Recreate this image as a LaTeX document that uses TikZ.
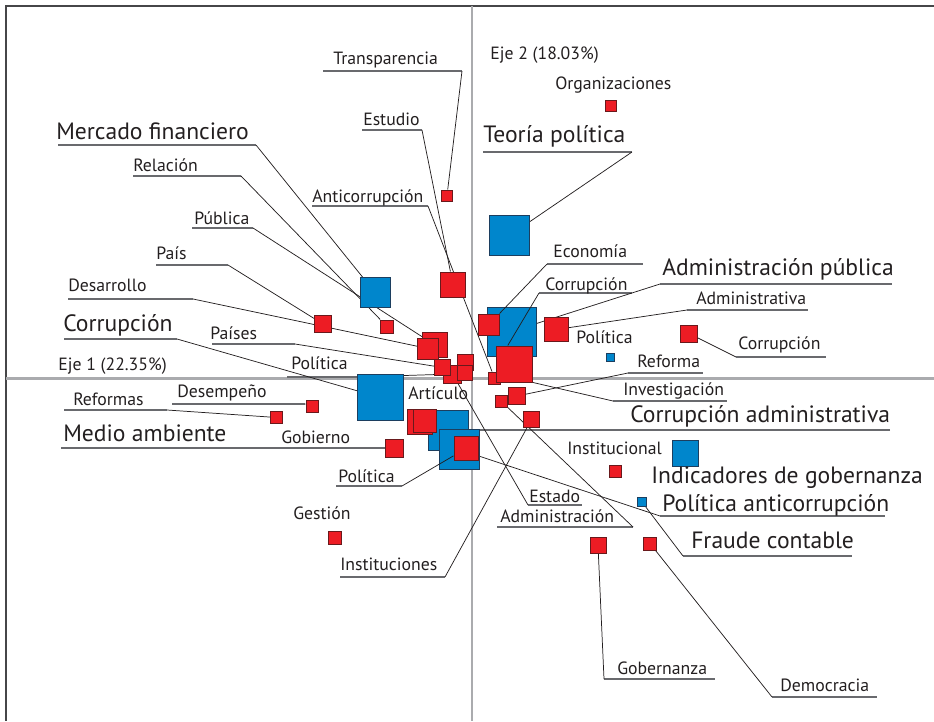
\documentclass[tikz,border=0pt]{standalone}
\usepackage{fontspec}
\setmainfont{PT Sans}
\definecolor{ink}{RGB}{35,31,32}
\definecolor{ulgray}{RGB}{105,106,110}
\definecolor{axisgray}{RGB}{170,171,174}
\definecolor{framegray}{RGB}{70,70,72}
\definecolor{ptred}{RGB}{237,28,36}
\definecolor{ptredline}{RGB}{105,25,28}
\definecolor{ptblue}{RGB}{0,134,204}
\definecolor{ptblueline}{RGB}{28,62,95}
\pgfdeclarelayer{background}
\pgfsetlayers{background,main}
\tikzset{
  red sq/.style={draw=ptredline, fill=ptred, line width=0.6pt, inner sep=0pt,
    minimum size={#1*0.75pt-0.6pt}},
  blue sq/.style={draw=ptblueline, fill=ptblue, line width=0.6pt, inner sep=0pt,
    minimum size={#1*0.75pt-0.6pt}},
  small txt/.style={font=\fontsize{13.3}{16}\selectfont, text=ink, inner sep=0pt, anchor=base west},
  big txt/.style={font=\fontsize{17.7}{21}\selectfont, text=ink, inner sep=0pt, anchor=base west},
  uline/.style={draw=ulgray, line width=0.8pt},
  leader/.style={draw=ink, line width=0.55pt},
  axis/.style={draw=axisgray, line width=1.8pt},
}
\begin{document}
\begin{tikzpicture}[x=0.75pt, y=-0.75pt]
  \useasboundingbox (0,0) rectangle (934,721);
  % blue points
  \node[blue sq=41] (teoria) at (509.5,235.5) {};
  \node[blue sq=31] (mercado) at (375,292.5) {};
  \node[blue sq=47] (corrupcion l) at (380.5,397.5) {};
  \node[blue sq=41] (corr adm) at (448,430) {};
  \node[blue sq=41] (pol anti) at (459,449.5) {};
  \node[blue sq=50] (adm publica) at (511.5,331.5) {};
  \node[blue sq=9] (politica r) at (610.5,357.5) {};
  \node[blue sq=27] (indicadores) at (685,453.5) {};
  \node[blue sq=10] (fraude) at (642,502) {};
  % red points
  \node[red sq=12] (organizaciones) at (611,105.5) {};
  \node[red sq=12] (transparencia) at (447,195.5) {};
  \node[red sq=26] (estudio) at (453,284.5) {};
  \node[red sq=14] (relacion) at (387,326.5) {};
  \node[red sq=18] (pais) at (323,324) {};
  \node[red sq=26] (publica) at (435,345) {};
  \node[red sq=22] (desarrollo) at (428,348.5) {};
  \node[red sq=19] (politica l) at (452.5,374) {};
  \node[red sq=17] (paises) at (442.5,367.5) {};
  \node[red sq=17] (cluster a) at (465.5,362.5) {};
  \node[red sq=16] (cluster b) at (465,372.5) {};
  \node[red sq=13] (anticorrupcion) at (494.5,378) {};
  \node[red sq=22] (economia) at (489,324.5) {};
  \node[red sq=37] (corrupcion ur) at (514.5,364) {};
  \node[red sq=25] (administrativa) at (556.5,329.5) {};
  \node[red sq=18] (corrupcion fr) at (689,333.5) {};
  \node[red sq=18] (reforma) at (517,396) {};
  \node[red sq=13] (administracion) at (501.5,401.5) {};
  \node[red sq=17] (instituciones) at (531.5,419.5) {};
  \node[red sq=13] (desempeno) at (312,406) {};
  \node[red sq=13] (reformas) at (276.5,417.5) {};
  \node[red sq=19] (gobierno) at (394,448) {};
  \node[red sq=26] (articulo a) at (420,421.5) {};
  \node[red sq=24] (articulo b) at (424.5,421) {};
  \node[red sq=25] (politica c) at (466,448.5) {};
  \node[red sq=13] (institucional) at (615.5,471) {};
  \node[red sq=14] (gestion) at (335,538) {};
  \node[red sq=17] (gobernanza) at (598,545.5) {};
  \node[red sq=14] (democracia) at (650,543.5) {};

  % labels
  \node[small txt] (eje 1) at (58,370) {Eje 1 (22.35\%)};
  \node[small txt] (eje 2) at (490,59) {Eje 2 (18.03\%)};
  \node[small txt] (transparencia text) at (333,64) {Transparencia};
  \node[small txt] (estudio text) at (363,125) {Estudio};
  \node[small txt] (relacion text) at (133,171) {Relación};
  \node[small txt] (anticorrupcion text) at (312,202) {Anticorrupción};
  \node[small txt] (publica text) at (194,224) {Pública};
  \node[small txt] (pais text) at (156,259) {País};
  \node[small txt] (desarrollo text) at (68,291) {Desarrollo};
  \node[small txt] (paises text) at (210,339) {Países};
  \node[small txt] (politica l text) at (291,369) {Política};
  \node[small txt] (desempeno text) at (177,397) {Desempeño};
  \node[small txt] (reformas text) at (73,405) {Reformas};
  \node[small txt] (gobierno text) at (281,443) {Gobierno};
  \node[small txt] (articulo text) at (408,399) {Artículo};
  \node[small txt] (politica c text) at (338,482) {Política};
  \node[small txt] (gestion text) at (293,519) {Gestión};
  \node[small txt] (instituciones text) at (340,570) {Instituciones};
  \node[small txt] (organizaciones text) at (555,89) {Organizaciones};
  \node[small txt] (economia text) at (553,257) {Economía};
  \node[small txt] (corrupcion ur text) at (545,290) {Corrupción};
  \node[small txt] (administrativa text) at (696,304) {Administrativa};
  \node[small txt] (politica r text) at (576,343) {Política};
  \node[small txt] (corrupcion fr text) at (738,349) {Corrupción};
  \node[small txt] (reforma text) at (637,367) {Reforma};
  \node[small txt] (investigacion text) at (623,395) {Investigación};
  \node[small txt] (institucional text) at (567,454) {Institucional};
  \node[small txt] (estado text) at (529,502) {Estado};
  \node[small txt] (administracion text) at (500,522) {Administración};
  \node[small txt] (gobernanza text) at (617,674) {Gobernanza};
  \node[small txt] (democracia text) at (780,691) {Democracia};
  \node[big txt] (mercado text) at (56,139) {Mercado financiero};
  \node[big txt] (teoria text) at (483,142) {Teoría política};
  \node[big txt] (corrupcion l text) at (63,331) {Corrupción};
  \node[big txt] (medio text) at (63,441) {Medio ambiente};
  \node[big txt] (adm publica text) at (662,275) {Administración pública};
  \node[big txt] (corr adm text) at (630,422) {Corrupción administrativa};
  \node[big txt] (indicadores text) at (651,483) {Indicadores de gobernanza};
  \node[big txt] (pol anti text) at (662,511) {Política anticorrupción};
  \node[big txt] (fraude text) at (691,548) {Fraude contable};

  \begin{pgfonlayer}{background}
    % frame and axes
    \draw[framegray, line width=1pt] (934,6) -- (6,6) -- (6,721);
    \draw[axis] (6,378.5) -- (934,378.5);
    \draw[axis] (472,6) -- (472,721);
    % underlines
    \draw[uline] (323,71) coordinate (transparencia 1) -- (462,71) coordinate (transparencia 2);
    \draw[uline] (362,130) coordinate (estudio 1) -- (422,130) coordinate (estudio 2);
    \draw[uline] (133,176) coordinate (relacion 1) -- (241,176) coordinate (relacion 2);
    \draw[uline] (312,206) coordinate (anticorrupcion 1) -- (428,206) coordinate (anticorrupcion 2);
    \draw[uline] (192,228) coordinate (publica 1) -- (253,228) coordinate (publica 2);
    \draw[uline] (156,265) coordinate (pais 1) -- (228,265) coordinate (pais 2);
    \draw[uline] (68,299) coordinate (desarrollo 1) -- (193,299) coordinate (desarrollo 2);
    \draw[uline] (212,344) coordinate (paises 1) -- (295,344) coordinate (paises 2);
    \draw[uline] (287,377) coordinate (politica l 1) -- (357,377) coordinate (politica l 2);
    \draw[uline] (172,404) coordinate (desempeno 1) -- (305,404) coordinate (desempeno 2);
    \draw[uline] (64,410) coordinate (reformas 1) -- (167,410) coordinate (reformas 2);
    \draw[uline] (336,486) coordinate (politica c 1) -- (402,486) coordinate (politica c 2);
    \draw[uline] (340,577) coordinate (instituciones 1) -- (445,577) coordinate (instituciones 2);
    \draw[uline] (547,264) coordinate (economia 1) -- (643,264) coordinate (economia 2);
    \draw[uline] (539,293) coordinate (corrupcion ur 1) -- (632,293) coordinate (corrupcion ur 2);
    \draw[uline] (687,310) coordinate (administrativa 1) -- (808,310) coordinate (administrativa 2);
    \draw[uline] (628,373) coordinate (reforma 1) -- (703,373) coordinate (reforma 2);
    \draw[uline] (613,401) coordinate (investigacion 1) -- (727,401) coordinate (investigacion 2);
    \draw[uline] (528,505) coordinate (estado 1) -- (582,505) coordinate (estado 2);
    \draw[uline] (497,527) coordinate (administracion 1) -- (633,527) coordinate (administracion 2);
    \draw[uline] (604,679) coordinate (gobernanza 1) -- (715,679) coordinate (gobernanza 2);
    \draw[uline] (772,697) coordinate (democracia 1) -- (877,697) coordinate (democracia 2);
    \draw[uline] (58,145) coordinate (mercado 1) -- (256,145) coordinate (mercado 2);
    \draw[uline] (483,152) coordinate (teoria 1) -- (632,152) coordinate (teoria 2);
    \draw[uline] (64,339) coordinate (corrupcion l 1) -- (177,339) coordinate (corrupcion l 2);
    \draw[uline] (61,448) coordinate (medio 1) -- (gobierno);
    \draw[uline] (660,284) coordinate (adm publica 1) -- (892,284) coordinate (adm publica 2);
    \draw[uline] (890,430) coordinate (corr adm 1) -- (corr adm);
    \draw[uline] (660,516) coordinate (pol anti 1) -- (885,516) coordinate (pol anti 2);
    \draw[uline] (683,556) coordinate (fraude 1) -- (852,556) coordinate (fraude 2);
    % leaders
    \draw[leader] (transparencia 2) -- (transparencia);
    \draw[leader] (estudio 2) -- (estudio);
    \draw[leader] (relacion 2) -- (relacion);
    \draw[leader] (anticorrupcion 2) -- (anticorrupcion);
    \draw[leader] (publica 2) -- (publica);
    \draw[leader] (pais 2) -- (pais);
    \draw[leader] (desarrollo 2) -- (desarrollo);
    \draw[leader] (paises 2) -- (paises);
    \draw[leader] (politica l 2) -- (politica l);
    \draw[leader] (desempeno 2) -- (desempeno);
    \draw[leader] (reformas 2) -- (reformas);
    \draw[leader] (instituciones 2) -- (instituciones);
    \draw[leader] (administrativa 1) -- (administrativa);
    \draw[leader] (reforma 1) -- (reforma);
    \draw[leader] (investigacion 1) -- (corrupcion ur.south east);
    \draw[leader] (estado 1) -- (politica l);
    \draw[leader] (administracion 2) -- (administracion);
    \draw[leader] (gobernanza 1) -- (gobernanza);
    \draw[leader] (democracia 1) -- (democracia);
    \draw[leader] (mercado 2) -- (mercado);
    \draw[leader] (teoria 2) -- (teoria);
    \draw[leader] (corrupcion l 2) -- (corrupcion l);
    \draw[leader] (adm publica 1) -- (adm publica);
    \draw[leader] (pol anti 1) -- (pol anti);
    \draw[leader] (fraude 1) -- (fraude);
    \draw[leader] (corrupcion fr) -- (736,357) coordinate (corrupcion fr 1);
    \draw[uline] (corrupcion fr 1) -- (826,357);
  \end{pgfonlayer}
  % leaders drawn over the blue squares
  \draw[leader] (economia 1) -- (economia);
  \draw[leader] (corrupcion ur 1) -- (corrupcion ur.110);
  \draw[leader] (politica c 2) -- (politica c);
\end{tikzpicture}
\end{document}
